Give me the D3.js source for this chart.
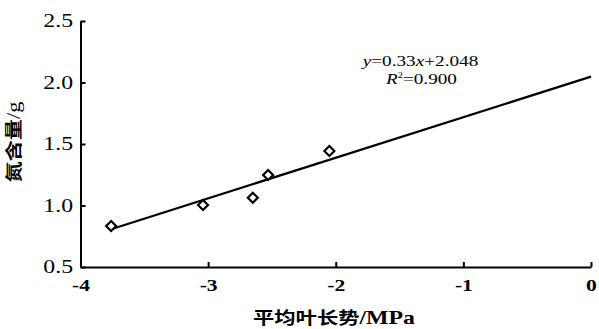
<!DOCTYPE html>
<html>
<head>
<meta charset="utf-8">
<script src="https://cdn.jsdelivr.net/npm/d3@7"></script>
<style>
  body { margin: 0; background: #fff; }
  svg { display: block; }
</style>
</head>
<body>
<svg id="chart" width="599" height="329"></svg>
<script>
// leaf water potential (MPa) vs nitrogen content (g)
const xVals = [-3.76, -3.04, -2.65, -2.53, -2.05];
const yVals = [0.833, 1.004, 1.063, 1.248, 1.443];
const xTicks = [-4, -3, -2, -1, 0];
const yTicks = [0.5, 1.0, 1.5, 2.0, 2.5];
const slope = 0.33;
const intercept = 2.048;
const fitRange = [-3.76, 0];

const svg = d3.select('#chart');
const margin = ({top: 21, right: 8, bottom: 62, left: 80.5});
const width = +svg.attr('width');
const height = +svg.attr('height');
const innerWidth = width - margin.left - margin.right;
const innerHeight = height - margin.top - margin.bottom;

const x = d3.scaleLinear().domain([-4, 0]).range([0, innerWidth]);
const y = d3.scaleLinear().domain([0.5, 2.5]).range([innerHeight, 0]);

const serif = "'Liberation Serif', 'Times New Roman', serif";
const cjk = "'Noto Sans CJK SC', sans-serif";

// the source figure is a bit wider than tall, so text is stretched sideways
const stretch = (sel, k) => sel.each(function() {
  const w = this.getComputedTextLength();
  d3.select(this).attr('textLength', w * k).attr('lengthAdjust', 'spacingAndGlyphs');
});

const g = svg.append('g')
  .attr('transform', `translate(${margin.left},${margin.top})`);

const yAxis = g.append('g')
  .call(d3.axisLeft(y).tickValues(yTicks).tickFormat(d => d.toFixed(1)).tickSizeInner(-5).tickSizeOuter(0).tickPadding(7.5))
  .attr('font-family', serif)
  .attr('font-size', 18);
yAxis.select('.domain').attr('stroke-width', 2);
yAxis.selectAll('.tick line').attr('stroke-width', 2);
yAxis.selectAll('.tick text').attr('fill', '#000').call(stretch, 1.32);

const xAxis = g.append('g')
  .attr('transform', `translate(0,${innerHeight})`)
  .call(d3.axisBottom(x).tickValues(xTicks).tickFormat(d => String(d)).tickSizeInner(-5).tickSizeOuter(0).tickPadding(13))
  .attr('font-family', serif)
  .attr('font-size', 16)
  .attr('font-weight', 'bold');
xAxis.select('.domain').attr('stroke-width', 2);
xAxis.selectAll('.tick line').attr('stroke-width', 2);
xAxis.selectAll('.tick text').attr('fill', '#000').call(stretch, 1.35);

// fitted line
g.append('line')
  .attr('x1', x(fitRange[0]))
  .attr('y1', y(slope * fitRange[0] + intercept))
  .attr('x2', x(fitRange[1]))
  .attr('y2', y(slope * fitRange[1] + intercept))
  .attr('stroke', '#000')
  .attr('stroke-width', 2.2);

// diamond markers
g.selectAll('.pt').data(xVals)
  .enter().append('path')
  .attr('class', 'pt')
  .attr('d', 'M0,-5L5,0L0,5L-5,0Z')
  .attr('transform', (d, i) => `translate(${x(d)},${y(yVals[i])})`)
  .attr('fill', '#fff')
  .attr('stroke', '#000')
  .attr('stroke-width', 2.2);

// equation
const eq = g.append('text')
  .attr('x', 340)
  .attr('y', 45)
  .attr('text-anchor', 'middle')
  .attr('font-family', serif)
  .attr('font-size', 15);
eq.append('tspan').style('font-style', 'italic').text('y');
eq.append('tspan').text('=0.33');
eq.append('tspan').style('font-style', 'italic').text('x');
eq.append('tspan').text('+2.048');
eq.call(stretch, 1.28);

const r2 = g.append('text')
  .attr('x', 341)
  .attr('y', 63)
  .attr('text-anchor', 'middle')
  .attr('font-family', serif)
  .attr('font-size', 15);
r2.append('tspan').style('font-style', 'italic').text('R');
r2.append('tspan').attr('dy', -6).attr('font-size', 8).text('2');
r2.append('tspan').attr('dy', 6).text('=0.900');
r2.call(stretch, 1.28);

// axis titles
const yTitle = svg.append('text')
  .attr('transform', 'translate(20,142) rotate(-90)')
  .attr('text-anchor', 'middle')
  .attr('font-family', cjk)
  .attr('font-size', 17)
  .attr('font-weight', 'bold')
  .attr('fill', '#000');
yTitle.append('tspan').text('氮含量');
yTitle.append('tspan').attr('font-family', serif).attr('font-weight', 'normal').attr('font-size', 18).text('/g');
yTitle.attr('textLength', 81).attr('lengthAdjust', 'spacingAndGlyphs');

const xTitle = svg.append('text')
  .attr('x', 334)
  .attr('y', 324)
  .attr('text-anchor', 'middle')
  .attr('font-family', cjk)
  .attr('font-size', 17)
  .attr('font-weight', 'bold')
  .attr('fill', '#000');
xTitle.append('tspan').text('平均叶长势');
xTitle.append('tspan').attr('font-family', serif).attr('font-size', 19).text('/MPa');
xTitle.attr('textLength', 162).attr('lengthAdjust', 'spacingAndGlyphs');
</script>
</body>
</html>
